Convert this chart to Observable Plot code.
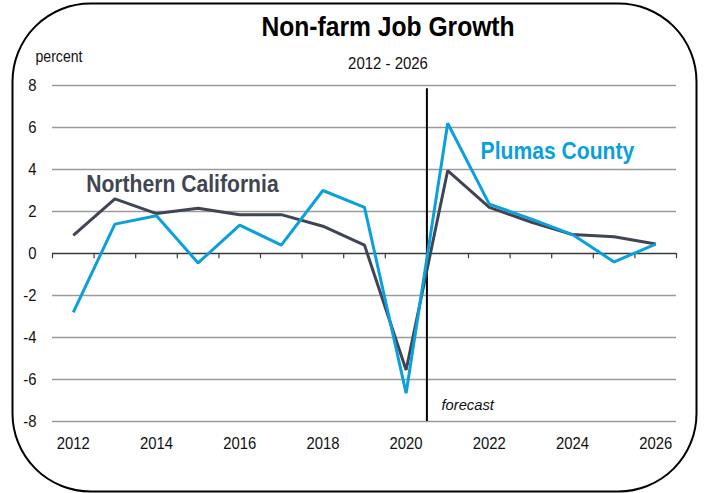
<!DOCTYPE html>
<html>
<head>
<meta charset="utf-8">
<script src="https://cdn.jsdelivr.net/npm/d3@7"></script>
<script src="https://cdn.jsdelivr.net/npm/@observablehq/plot@0.6"></script>
<style>
  html, body { margin: 0; padding: 0; background: #fff; }
</style>
</head>
<body>
<div id="chart"></div>
<script>
const years = [2012, 2013, 2014, 2015, 2016, 2017, 2018, 2019, 2020, 2021, 2022, 2023, 2024, 2025, 2026];
const northernCalifornia = [0.86, 2.6, 1.9, 2.15, 1.85, 1.85, 1.3, 0.4, -5.55, 3.95, 2.2, 1.5, 0.9, 0.8, 0.45];
const plumasCounty = [-2.8, 1.4, 1.8, -0.45, 1.35, 0.4, 3.0, 2.2, -6.65, 6.2, 2.35, 1.65, 0.9, -0.4, 0.45];
const yTicks = [-8, -6, -4, -2, 0, 2, 4, 6, 8];
const xTicks = [2012, 2014, 2016, 2018, 2020, 2022, 2024, 2026];
const xTickMarks = [2011.5, 2012.5, 2013.5, 2014.5, 2015.5, 2016.5, 2017.5, 2018.5, 2019.5, 2020.5, 2021.5, 2022.5, 2023.5, 2024.5, 2025.5, 2026.5];
const forecastStart = 2020.5;
const titleText = "Non-farm Job Growth";
const subtitleText = "2012 - 2026";
const yLabel = "percent";
const labels = [
  {text: "Northern California", year: 2012.31, value: 2.92, color: "#3f4552"},
  {text: "Plumas County", year: 2021.79, value: 4.48, color: "#0aa0dc"}
];
const forecastLabel = {text: "forecast", year: 2020.85, value: -7.43};

const colors = {"Northern California": "#3f4552", "Plumas County": "#0aa0dc"};
const rows = [
  ...years.map((year, i) => ({year, value: northernCalifornia[i], series: "Northern California"})),
  ...years.map((year, i) => ({year, value: plumasCounty[i], series: "Plumas County"}))
];

const font = '"Liberation Sans Narrow", "Arial Narrow", "Liberation Sans", Arial, sans-serif';

const chart = Plot.plot({
  width: 707,
  height: 493,
  marginLeft: 52,
  marginRight: 31,
  marginTop: 85,
  marginBottom: 72,
  style: {fontFamily: font, background: "#fff", color: "#111"},
  x: {domain: [2011.5, 2026.5]},
  y: {domain: [-8, 8]},
  marks: [
    Plot.frame({stroke: "#000", strokeWidth: 2, rx: 78, insetTop: -82, insetLeft: -40, insetRight: -20, insetBottom: -70}),
    Plot.ruleY(yTicks.filter(d => d !== 0), {stroke: "#9a9a9a", strokeWidth: 1.5}),
    Plot.ruleY([0], {stroke: "#3a3a3a", strokeWidth: 1.5}),
    Plot.ruleX(xTickMarks, {y1: 0, y2: -0.25, stroke: "#3a3a3a", strokeWidth: 1.2}),
    Plot.axisX(xTicks, {tickSize: 0, tickPadding: 16, fontSize: 16.5, tickFormat: d => String(d), label: null, className: "squeeze-axis"}),
    Plot.axisY(yTicks, {tickSize: 0, tickPadding: 16, fontSize: 16.5, tickFormat: d => String(d), label: null, className: "squeeze-axis"}),
    Plot.ruleX([forecastStart], {y1: -8, y2: 7.85, stroke: "#000", strokeWidth: 2}),
    Plot.line(rows, {x: "year", y: "value", z: "series", stroke: d => colors[d.series], strokeWidth: 3, strokeLinejoin: "miter", strokeLinecap: "butt"}),
    Plot.text(labels, {x: "year", y: "value", text: "text", fill: "color", textAnchor: "start", lineAnchor: "bottom", fontSize: 24, fontWeight: "bold", className: "squeeze"}),
    Plot.text([forecastLabel], {x: "year", y: "value", text: "text", textAnchor: "start", lineAnchor: "bottom", fontSize: 15.5, fontStyle: "italic", fill: "#111", className: "squeeze-light"}),
    Plot.text([titleText], {frameAnchor: "top", dx: 23.5, dy: -50, lineAnchor: "bottom", fontSize: 28, fontWeight: "bold", fill: "#000", className: "squeeze"}),
    Plot.text([subtitleText], {frameAnchor: "top", dx: 23.5, dy: -17, lineAnchor: "bottom", fontSize: 17, fill: "#111", className: "squeeze"}),
    Plot.text([yLabel], {frameAnchor: "top-left", dx: -17, dy: -23.5, textAnchor: "start", lineAnchor: "bottom", fontSize: 16, fill: "#111", className: "squeeze"})
  ]
});

document.getElementById("chart").appendChild(chart);

// Condense text horizontally (the reference uses a narrow typeface)
const factors = {"squeeze": 0.88, "squeeze-axis": 0.9, "squeeze-light": 0.95};
for (const [cls, f] of Object.entries(factors)) {
  d3.select(chart).selectAll(`g.${cls} text`).each(function() {
    const w = this.getComputedTextLength();
    if (w > 0) {
      this.setAttribute("textLength", (w * f).toFixed(2));
      this.setAttribute("lengthAdjust", "spacingAndGlyphs");
    }
  });
}
</script>
</body>
</html>
